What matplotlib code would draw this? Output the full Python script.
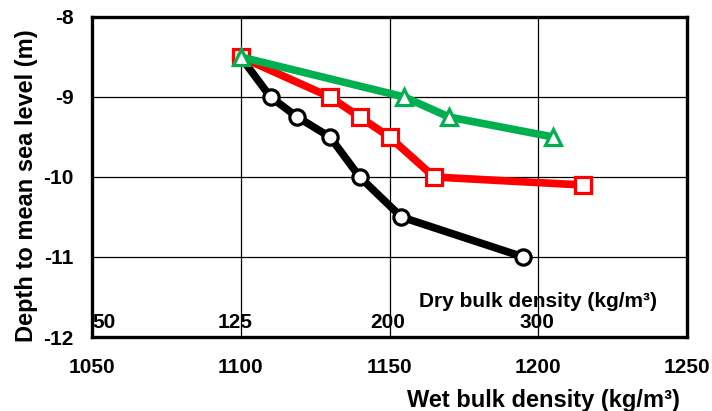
import matplotlib
matplotlib.use("Agg")
import matplotlib.pyplot as plt

plt.rcParams['font.family'] = ['Liberation Sans', 'DejaVu Sans']
plt.rcParams['font.weight'] = 'bold'
plt.rcParams['axes.unicode_minus'] = False

# Wet bulk density (kg/m3) against depth (m) for three profiles
wet_black = [1100, 1110, 1119, 1130, 1140, 1154, 1195]
depth_black = [-8.5, -9.0, -9.25, -9.5, -10.0, -10.5, -11.0]

wet_red = [1100, 1130, 1140, 1150, 1165, 1215]
depth_red = [-8.5, -9.0, -9.25, -9.5, -10.0, -10.1]

wet_green = [1100, 1155, 1170, 1205]
depth_green = [-8.5, -9.0, -9.25, -9.5]

# Dry bulk density scale written along the bottom of the plot
dry_labels = ["50", "125", "200", "300"]
dry_pos = [1050, 1098, 1149.5, 1199.5]

x_ticks = [1050, 1100, 1150, 1200, 1250]
y_ticks = [-12, -11, -10, -9, -8]

W, H = 712, 411
fig = plt.figure(figsize=(W / 100, H / 100), dpi=100)
ax = fig.add_axes([92 / W, (H - 337) / H, (687 - 92) / W, 320 / H])

ax.set_xlim(1050, 1250)
ax.set_ylim(-12, -8)
ax.set_xticks(x_ticks)
ax.set_yticks(y_ticks)
ax.grid(True, color='black', lw=0.9, zorder=0)
ax.set_axisbelow(True)
for s in ax.spines.values():
    s.set_linewidth(2.4)
ax.tick_params(axis='both', length=0, labelsize=15)
ax.tick_params(axis='x', pad=15)
ax.tick_params(axis='y', pad=13)

ax.plot(wet_black, depth_black, '-o', color='black', lw=5.5,
        ms=11, mfc='white', mec='black', mew=2.3, zorder=3)
ax.plot(wet_red, depth_red, '-s', color='#FF0000', lw=5.5,
        ms=11, mfc='white', mec='#FF0000', mew=2.3, zorder=4)
ax.plot(wet_green, depth_green, '-^', color='#00B050', lw=5.5,
        ms=12, mfc='white', mec='#00B050', mew=2.3, zorder=5)

for lab, xp in zip(dry_labels, dry_pos):
    if xp == 1050:
        ax.text(xp + 0.3, -11.82, lab, ha='left', va='center', fontsize=15)
    else:
        ax.text(xp, -11.82, lab, ha='center', va='center', fontsize=15)
ax.text(1200, -11.55, "Dry bulk density (kg/m³)", ha='center', va='center',
        fontsize=15)

fig.text(680 / W, 1 - 407 / H, "Wet bulk density (kg/m³)", ha='right',
         va='baseline', fontsize=17)
fig.text(27 / W, 1 - 186 / H, "Depth to mean sea level (m)", ha='center',
         va='center', rotation=90, fontsize=17)

fig.savefig("out.png", dpi=100)
